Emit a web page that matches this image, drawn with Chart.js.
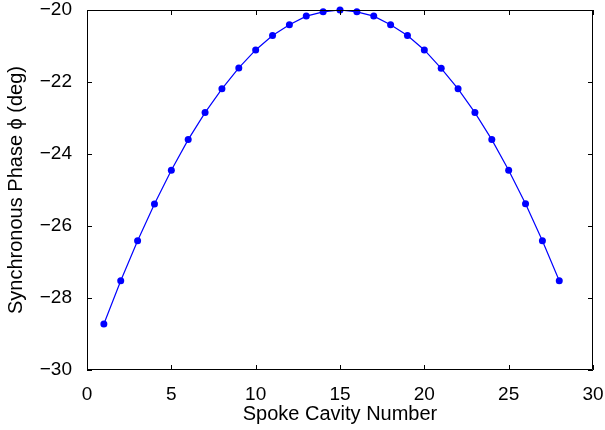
<!DOCTYPE html>
<html>
<head>
<meta charset="utf-8">
<script src="https://cdn.jsdelivr.net/npm/chart.js@4"></script>
<style>
  html, body { margin: 0; padding: 0; background: #fff; }
  #wrap { width: 605px; height: 430px; }
</style>
</head>
<body>
<div id="wrap"><canvas id="chart" width="605" height="430"></canvas></div>
<script>
// data
const cavityNumbers = [1,2,3,4,5,6,7,8,9,10,11,12,13,14,15,16,17,18,19,20,21,22,23,24,25,26,27,28];
const phaseDeg = [-28.72,-27.52,-26.41,-25.39,-24.45,-23.60,-22.85,-22.19,-21.61,-21.11,-20.71,-20.41,-20.17,-20.05,
                  -20.00,-20.05,-20.17,-20.41,-20.71,-21.11,-21.62,-22.19,-22.85,-23.60,-24.45,-25.38,-26.41,-27.52];
const xTicks = [0,5,10,15,20,25,30];
const yTicks = [-30,-28,-26,-24,-22,-20];

const FONT = '"Liberation Sans", Arial, Helvetica, sans-serif';
const minus = v => String(v).replace('-', '\u2212');

// matlab style box with inward ticks on all four sides
const boxTicks = {
  id: 'boxTicks',
  afterDraw(chart) {
    const { ctx, chartArea: a, scales: { x, y } } = chart;
    const len = 5;
    ctx.save();
    ctx.strokeStyle = '#000';
    ctx.lineWidth = 1;
    ctx.beginPath();
    ctx.rect(a.left + 0.5, a.top + 0.5, a.right - a.left - 1, a.bottom - a.top - 1);
    xTicks.forEach(v => {
      const px = Math.round(x.getPixelForValue(v)) + 0.5;
      ctx.moveTo(px, a.bottom); ctx.lineTo(px, a.bottom - len);
      ctx.moveTo(px, a.top); ctx.lineTo(px, a.top + len);
    });
    yTicks.forEach(v => {
      const py = Math.round(y.getPixelForValue(v)) + 0.5;
      ctx.moveTo(a.left, py); ctx.lineTo(a.left + len, py);
      ctx.moveTo(a.right, py); ctx.lineTo(a.right - len, py);
    });
    ctx.stroke();
    ctx.restore();
  }
};

new Chart(document.getElementById('chart'), {
  type: 'line',
  data: {
    datasets: [{
      data: cavityNumbers.map((c, i) => ({ x: c, y: phaseDeg[i] })),
      borderColor: '#0000ff',
      backgroundColor: '#0000ff',
      borderWidth: 1.2,
      pointRadius: 3.5,
      pointBorderWidth: 0,
      tension: 0,
      clip: false
    }]
  },
  options: {
    responsive: false,
    animation: false,
    layout: { padding: { top: 10, right: 12, left: 0, bottom: 0 } },
    plugins: { legend: { display: false }, tooltip: { enabled: false } },
    scales: {
      x: {
        type: 'linear', min: 0, max: 30,
        afterBuildTicks: s => { s.ticks = xTicks.map(v => ({ value: v })); },
        afterFit: s => { s.height = 60; s.paddingLeft = 0; s.paddingRight = 0; },
        grid: { display: false },
        border: { display: false },
        ticks: { color: '#000', padding: 5, font: { family: FONT, size: 19 }, callback: v => minus(v) },
        title: { display: true, text: 'Spoke Cavity Number', color: '#000', padding: { top: 0 }, font: { family: FONT, size: 20 } }
      },
      y: {
        min: -30, max: -20,
        afterBuildTicks: s => { s.ticks = yTicks.map(v => ({ value: v })); },
        afterFit: s => { s.width = 87; s.paddingTop = 0; s.paddingBottom = 0; },
        grid: { display: false },
        border: { display: false },
        ticks: { color: '#000', padding: 7, font: { family: FONT, size: 19 }, callback: v => minus(v) },
        title: { display: true, text: 'Synchronous Phase \u03d5 (deg)', color: '#000', padding: { bottom: 0 }, font: { family: FONT, size: 20 } }
      }
    }
  },
  plugins: [boxTicks]
});
</script>
</body>
</html>
